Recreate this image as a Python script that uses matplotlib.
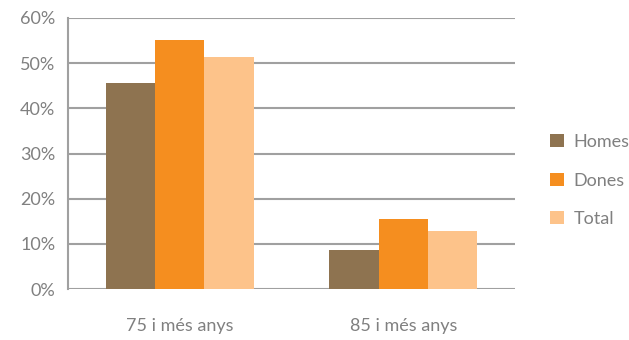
import matplotlib
matplotlib.use("Agg")
import matplotlib.pyplot as plt
import numpy as np
from matplotlib.ticker import PercentFormatter

categories = ["75 i més anys", "85 i més anys"]
series_names = ["Homes", "Dones", "Total"]
homes = [45.6, 8.6]
dones = [55.2, 15.5]
total = [51.3, 12.8]
colors = ["#8E7350", "#F58E1F", "#FDC38A"]

plt.rcParams['font.family'] = ['Lato', 'DejaVu Sans']
fig = plt.figure(figsize=(6.29, 3.40), dpi=100)
ax = fig.add_axes([68/629, 1-289/340, (515-68)/629, (289-18)/340])

x = np.arange(len(categories))
w = 0.22
for i, (vals, name, c) in enumerate(zip([homes, dones, total], series_names, colors)):
    ax.bar(x + (i-1)*w, vals, width=w, color=c, label=name, zorder=3)

ax.set_xlim(-0.5, 1.5)
ax.set_ylim(0, 60)
ax.set_yticks(np.arange(0, 61, 10))
ax.yaxis.set_major_formatter(PercentFormatter(decimals=0))
ax.set_xticks(x)
ax.set_xticklabels(categories)
ax.grid(axis='y', color='#A0A0A0', linewidth=1.5, zorder=0)
for s in ['top', 'right', 'bottom']:
    ax.spines[s].set_visible(False)
ax.spines['left'].set_color('#A0A0A0')
ax.spines['left'].set_linewidth(1.5)
ax.tick_params(axis='both', length=0, colors='#808080', labelsize=13)
ax.tick_params(axis='x', pad=21)
ax.tick_params(axis='y', pad=9)

leg = ax.legend(loc='center left', bbox_to_anchor=(1 + 35/447, 0.40), frameon=False,
                fontsize=13, handlelength=0.75, handleheight=0.75,
                labelspacing=1.25, handletextpad=0.55, borderpad=0, borderaxespad=0)
for t in leg.get_texts():
    t.set_color('#808080')

fig.savefig("out.png", dpi=100)
